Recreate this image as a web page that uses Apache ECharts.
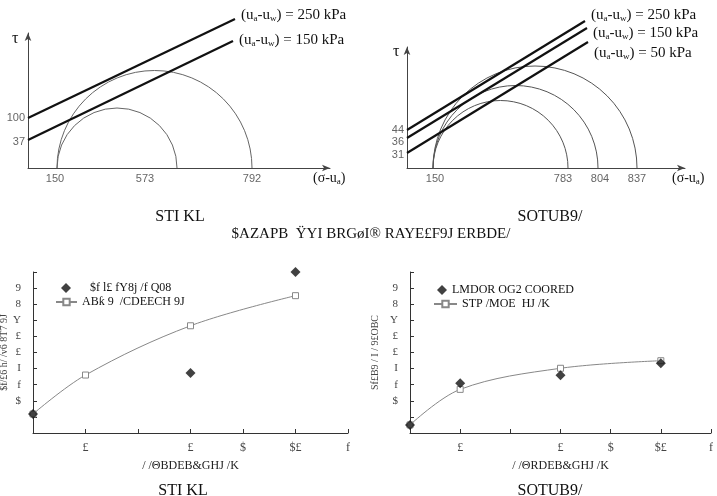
<!DOCTYPE html>
<html><head><meta charset="utf-8">
<script src="https://cdn.jsdelivr.net/npm/echarts@6/dist/echarts.min.js"></script>
<style>html,body{margin:0;padding:0;background:#fff}#c{width:717px;height:496px}</style>
</head><body><div id="c"></div>
<script>
// ---- Top-left schematic (diagram units) ----
const tlCircles = [[29,149],[29,224]];
const tlEnv250 = [[0,50],[207,149]];
const tlEnv150 = [[0,28],[205,127]];
const tlXTickPos = [27,117,224];
const tlXTickLab = ['150','573','792'];
const tlYTickPos = [50,26];
const tlYTickLab = ['100','37'];
// ---- Top-right schematic ----
const trCircles = [[26,161],[26,191],[26,230]];
const trEnv250 = [[0,38],[178,147]];
const trEnv150 = [[0,30],[180,140]];
const trEnv50 = [[0,15],[181,126]];
const trXTickPos = [28,156,193,230];
const trXTickLab = ['150','783','804','837'];
const trYTickPos = [38,26,13];
const trYTickLab = ['44','36','31'];
// ---- Bottom charts ----
const blX = [0,1,3,5];
const blDiamonds = [[0,1.18],[3,3.73],[5,10.0]];
const blSquares = [1.18,3.6,6.66,8.53];
const brDiamonds = [[0,0.5],[1,3.09],[3,3.58],[5,4.33]];
const brSquares = [0.5,2.71,4.02,4.49];
const xTickLabels = ['', '£', '', '£', '$', '$£', 'f'];
const yTickLabels = ['', '', '$', 'f', 'I', '£', '£', 'Y', '8', '9', ''];
const blLegend = ['$f l£ fY8j /f Q08', 'ABƙ 9  /CDEECH 9J'];
const brLegend = ['LMDOR OG2 COORED', 'STP /MOE  HJ /K'];

const serif = '"Liberation Serif","DejaVu Serif",serif';
const sans = '"Liberation Sans",Arial,sans-serif';
const rich = {s:{fontSize:9, verticalAlign:'bottom', padding:[8,0,0,0], fontFamily:serif, color:'#111'}};
const uLabel = t => '(u{s|a}-u{s|w}) = ' + t + ' kPa';

function semi(color){
  return function(params, api){
    const p0 = api.coord([api.value(0),0]);
    const p1 = api.coord([api.value(1),0]);
    const r = (p1[0]-p0[0])/2;
    return {type:'arc', shape:{cx:(p0[0]+p1[0])/2, cy:p0[1], r:r, startAngle:Math.PI, endAngle:2*Math.PI, clockwise:true},
      style:{stroke:color, fill:null, lineWidth:1}};
  };
}
function envSeries(data, xi, txt, off){
  return {type:'line', xAxisIndex:xi, yAxisIndex:xi, data:data, symbol:'none', clip:false,
    lineStyle:{color:'#111', width:2.2}, silent:true,
    endLabel:{show:true, formatter:uLabel(txt), fontFamily:serif, fontSize:15, color:'#111', offset:off, rich:rich, distance:6}};
}
function topX(i, max, pos, lab){
  return {type:'value', gridIndex:i, min:0, max:max, splitLine:{show:false},
    axisLine:{lineStyle:{color:'#444', width:1}, symbol:['none','arrow'], symbolSize:[5,8]},
    axisTick:{show:false},
    axisLabel:{customValues:pos, formatter:v=>lab[pos.indexOf(v)], color:'#666', fontFamily:sans, fontSize:11, margin:5}};
}
function topY(i, max, pos, lab){
  return {type:'value', gridIndex:i, min:0, max:max, splitLine:{show:false},
    axisLine:{lineStyle:{color:'#444', width:1}, symbol:['none','arrow'], symbolSize:[5,8]},
    axisTick:{show:false},
    axisLabel:{customValues:pos, formatter:v=>lab[pos.indexOf(v)], color:'#666', fontFamily:sans, fontSize:11, margin:3}};
}
function botX(i, name){
  return {type:'value', gridIndex:i, min:0, max:6, interval:1, splitLine:{show:false},
    axisLine:{lineStyle:{color:'#333'}}, axisTick:{inside:true, length:4, lineStyle:{color:'#333'}},
    axisLabel:{formatter:v=>xTickLabels[v], color:'#444', fontFamily:serif, fontSize:12, margin:9},
    name:name, nameLocation:'middle', nameGap:27, nameTextStyle:{fontFamily:serif, fontSize:12, color:'#222'}};
}
function botY(i, name, gap){
  return {type:'value', gridIndex:i, min:0, max:10, interval:1, splitLine:{show:false},
    axisLine:{lineStyle:{color:'#333'}}, axisTick:{inside:true, length:4, lineStyle:{color:'#333'}},
    axisLabel:{formatter:v=>yTickLabels[v], color:'#444', fontFamily:serif, fontSize:11, margin:12},
    name:name, nameLocation:'middle', nameGap:gap, nameTextStyle:{fontFamily:serif, fontSize:10, color:'#444'}};
}
const legText = {fontFamily:serif, fontSize:12, color:'#111'};
const chart = echarts.init(document.getElementById('c'));
chart.setOption({
  animation:false,
  backgroundColor:'#fff',
  title:[
    {text:'STI KL', left:175, top:204, textAlign:'center', textStyle:{fontFamily:serif, fontSize:16, fontWeight:'normal', color:'#111'}},
    {text:'SOTUB9/', left:545, top:204, textAlign:'center', textStyle:{fontFamily:serif, fontSize:16, fontWeight:'normal', color:'#111'}},
    {text:'$AZAPB  ŸYI BRGøI® RAYE£F9J ERBDE/', left:366, top:222, textAlign:'center', textStyle:{fontFamily:serif, fontSize:15, fontWeight:'normal', color:'#111'}},
    {text:'STI KL', left:178, top:478, textAlign:'center', textStyle:{fontFamily:serif, fontSize:16, fontWeight:'normal', color:'#111'}},
    {text:'SOTUB9/', left:545, top:478, textAlign:'center', textStyle:{fontFamily:serif, fontSize:16, fontWeight:'normal', color:'#111'}}
  ],
  graphic:[
    {type:'text', left:12, top:31, style:{text:'τ', font:'16px '+serif, fill:'#111'}},
    {type:'text', left:393, top:44, style:{text:'τ', font:'16px '+serif, fill:'#111'}},
    {type:'text', left:313, top:171, style:{text:'(σ-u{s|a})', font:'14px '+serif, fill:'#111', rich:rich}},
    {type:'text', left:672, top:171, style:{text:'(σ-u{s|a})', font:'14px '+serif, fill:'#111', rich:rich}}
  ],
  grid:[
    {left:28, top:33, width:302, height:135, outerBoundsMode:'none'},
    {left:407, top:47, width:278, height:121, outerBoundsMode:'none'},
    {left:33, top:272, width:315, height:161, outerBoundsMode:'none'},
    {left:410, top:272, width:301, height:161, outerBoundsMode:'none'}
  ],
  xAxis:[ topX(0,302,tlXTickPos,tlXTickLab), topX(1,278,trXTickPos,trXTickLab),
          botX(2,'/ /ΘBDEB&GHJ /K'), botX(3,'/ /ΘRDEB&GHJ /K') ],
  yAxis:[ topY(0,135,tlYTickPos,tlYTickLab), topY(1,121,trYTickPos,trYTickLab),
          botY(2,'$f/£6 h/ /v6 8T7 9J',22), botY(3,'Sf£B9 / I / 9£OBC',30) ],
  legend:[
    {left:56, top:277, itemWidth:10, itemHeight:10, data:[{name:blLegend[0], icon:'diamond'}],
      textStyle:Object.assign({padding:[0,0,0,14]}, legText)},
    {left:50, top:291, itemWidth:21, itemHeight:8, data:[blLegend[1]], textStyle:legText},
    {left:432, top:279, itemWidth:10, itemHeight:10, data:[{name:brLegend[0], icon:'diamond'}], textStyle:legText},
    {left:428, top:293, itemWidth:23, itemHeight:8, data:[brLegend[1]], textStyle:legText}
  ],
  series:[
    {type:'custom', xAxisIndex:0, yAxisIndex:0, data:tlCircles, renderItem:semi('#666'), clip:false, silent:true},
    envSeries(tlEnv250,0,'250',[0,-4]),
    envSeries(tlEnv150,0,'150',[0,-1]),
    {type:'custom', xAxisIndex:1, yAxisIndex:1, data:trCircles, renderItem:semi('#555'), clip:false, silent:true},
    envSeries(trEnv250,1,'250',[0,-6]),
    envSeries(trEnv150,1,'150',[0,5]),
    envSeries(trEnv50,1,'50',[0,11]),
    {name:blLegend[1], type:'line', xAxisIndex:2, yAxisIndex:2, data:blX.map((x,i)=>[x,blSquares[i]]), smooth:0.35,
      symbol:'rect', symbolSize:6, itemStyle:{color:'#fff', borderColor:'#888', borderWidth:1}, lineStyle:{color:'#888', width:1}, z:2},
    {name:blLegend[0], type:'scatter', xAxisIndex:2, yAxisIndex:2, data:blDiamonds, symbol:'diamond', symbolSize:10,
      itemStyle:{color:'#111'}, clip:false, z:3},
    {name:brLegend[1], type:'line', xAxisIndex:3, yAxisIndex:3, data:blX.map((x,i)=>[x,brSquares[i]]), smooth:0.35,
      symbol:'rect', symbolSize:6, itemStyle:{color:'#fff', borderColor:'#888', borderWidth:1}, lineStyle:{color:'#888', width:1}, z:2},
    {name:brLegend[0], type:'scatter', xAxisIndex:3, yAxisIndex:3, data:brDiamonds, symbol:'diamond', symbolSize:10,
      itemStyle:{color:'#111'}, clip:false, z:3}
  ]
});
</script></body></html>
